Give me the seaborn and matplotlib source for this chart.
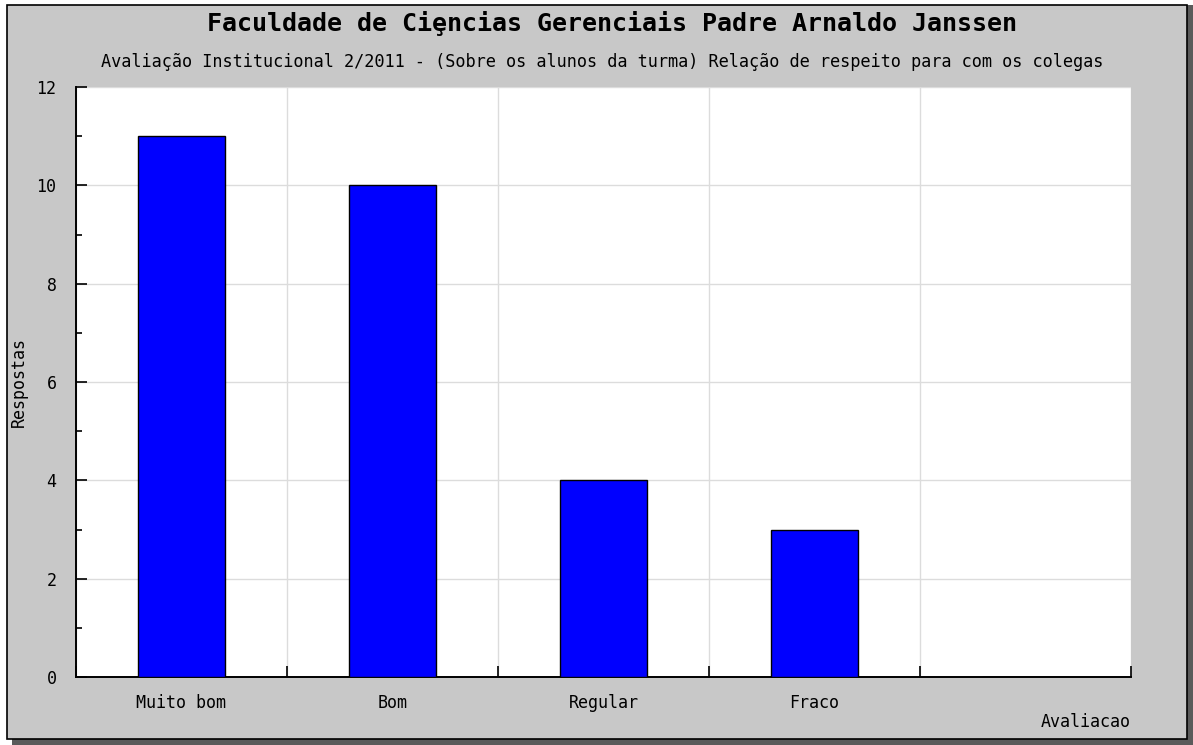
import numpy as np
import pandas as pd
import matplotlib
matplotlib.use("Agg")
import matplotlib.pyplot as plt
import seaborn as sns
from matplotlib.patches import Rectangle
from matplotlib.ticker import MultipleLocator

# =====================================================
# DATA
# =====================================================

categories = ["Muito bom", "Bom", "Regular", "Fraco", ""]
respostas = [11, 10, 4, 3, 0]

title = "Faculdade de Ciȩncias Gerenciais Padre Arnaldo Janssen"
subtitle = ("Avaliação Institucional 2/2011 - (Sobre os alunos da turma) "
            "Relação de respeito para com os colegas")

df = pd.DataFrame({"Avaliacao": categories, "Respostas": respostas})

# =====================================================
# STYLE
# =====================================================

sns.set_theme(style="white")
plt.rcParams["font.family"] = ["DejaVu Sans Mono", "DejaVu Sans"]
plt.rcParams["text.color"] = "black"
plt.rcParams["axes.labelcolor"] = "black"
plt.rcParams["xtick.color"] = "black"
plt.rcParams["ytick.color"] = "black"

W, H = 1193, 745
fig = plt.figure(figsize=(W / 100, H / 100), dpi=100, facecolor="white")

# frame + drop shadow
fig.patches.append(Rectangle((12 / W, 0), 1181 / W, 740 / H,
                             transform=fig.transFigure, facecolor="#5a5a5a",
                             edgecolor="none", zorder=-3))
fig.patches.append(Rectangle((7 / W, 6 / H), 1180 / W, 734 / H,
                             transform=fig.transFigure, facecolor="#c8c8c8",
                             edgecolor="black", linewidth=1.2, zorder=-2))

ax = fig.add_axes([76 / W, 68 / H, 1055 / W, 590 / H])
ax.set_facecolor("white")

sns.barplot(
    data=df, x="Avaliacao", y="Respostas", order=categories,
    color="#0000ff", saturation=1, width=0.41,
    edgecolor="black", linewidth=1, ax=ax, zorder=3
)

ax.set_xlim(-0.5, len(categories) - 0.5)
ax.set_ylim(0, 12)

# x: boundaries as major ticks (grid), labels at centers
ax.set_xticks(np.arange(len(categories) + 1) - 0.5)
ax.set_xticklabels([])
ax.set_xticks(np.arange(len(categories)), minor=True)
ax.set_xticklabels(categories, minor=True, fontsize=12)
ax.tick_params(axis="x", which="major", direction="in", length=8,
               width=1.2, color="black", bottom=True)
ax.tick_params(axis="x", which="minor", length=0, pad=12)

ax.yaxis.set_major_locator(MultipleLocator(2))
ax.yaxis.set_minor_locator(MultipleLocator(1))
ax.tick_params(axis="y", which="major", direction="in", length=8,
               width=1.2, color="black", left=True, labelsize=12, pad=14)
ax.tick_params(axis="y", which="minor", direction="in", length=4,
               width=1.2, color="black", left=True)

ax.grid(True, which="major", color="#dcdcdc", linewidth=1, zorder=0)
ax.set_axisbelow(True)

for side in ["top", "right"]:
    ax.spines[side].set_visible(False)
for side in ["left", "bottom"]:
    ax.spines[side].set_color("black")
    ax.spines[side].set_linewidth(1.4)

ax.set_ylabel("Respostas", fontsize=12)
ax.yaxis.set_label_coords(-0.046, 0.5)
ax.set_xlabel("Avaliacao", fontsize=12, ha="right")
ax.xaxis.set_label_coords(1.0, -0.061)

fig.text(612 / W, 1 - 24 / H, title, ha="center", va="center",
         fontsize=18.0, fontweight="bold")
fig.text(602 / W, 1 - 62 / H, subtitle, ha="center", va="center",
         fontsize=12.2)

plt.savefig("out.png", dpi=100, facecolor="white")
plt.close()
